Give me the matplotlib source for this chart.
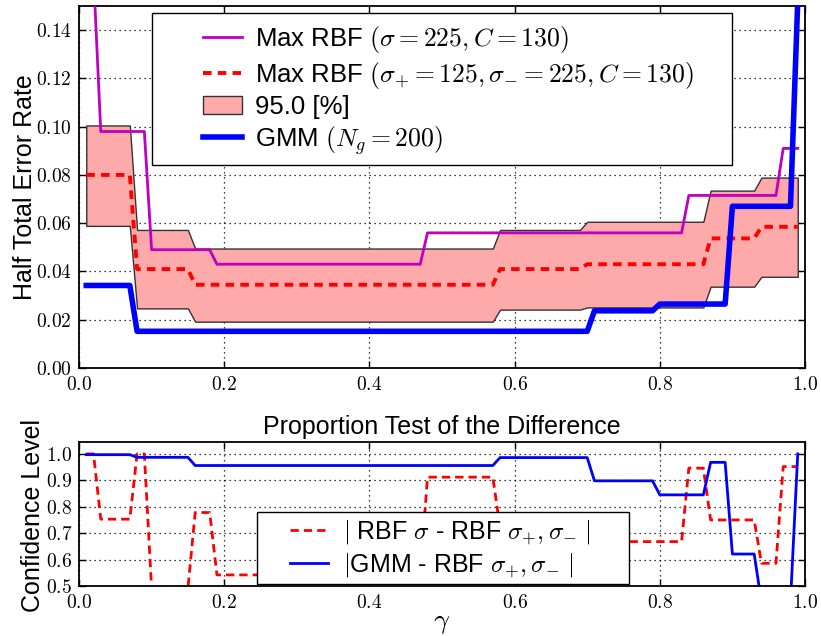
import numpy as np
import matplotlib
matplotlib.use("Agg")
import matplotlib.pyplot as plt
from matplotlib.patches import Rectangle

plt.rcParams['font.family'] = ['Liberation Sans', 'DejaVu Sans']
plt.rcParams['mathtext.fontset'] = 'cm'
plt.rcParams['lines.scale_dashes'] = True

# ---------------- data ----------------
gamma = np.linspace(0.01, 0.99, 99)

rbf_sigma = [
    0.170, 0.163, 0.098, 0.098, 0.098, 0.098, 0.098, 0.098, 0.098, 0.049,
    0.049, 0.049, 0.049, 0.049, 0.049, 0.049, 0.049, 0.049, 0.043, 0.043,
    0.043, 0.043, 0.043, 0.043, 0.043, 0.043, 0.043, 0.043, 0.043, 0.043,
    0.043, 0.043, 0.043, 0.043, 0.043, 0.043, 0.043, 0.043, 0.043, 0.043,
    0.043, 0.043, 0.043, 0.043, 0.043, 0.043, 0.043, 0.056, 0.056, 0.056,
    0.056, 0.056, 0.056, 0.056, 0.056, 0.056, 0.056, 0.056, 0.056, 0.056,
    0.056, 0.056, 0.056, 0.056, 0.056, 0.056, 0.056, 0.056, 0.056, 0.056,
    0.056, 0.056, 0.056, 0.056, 0.056, 0.056, 0.056, 0.056, 0.056, 0.056,
    0.056, 0.056, 0.056, 0.0715, 0.0715, 0.0715, 0.0715, 0.0715, 0.0715, 0.0715,
    0.0715, 0.0715, 0.0715, 0.0715, 0.0715, 0.0715, 0.091, 0.091, 0.091,
]

rbf_pm = [
    0.080, 0.080, 0.080, 0.080, 0.080, 0.080, 0.080, 0.041, 0.041, 0.041,
    0.041, 0.041, 0.041, 0.041, 0.041, 0.0345, 0.0345, 0.0345, 0.0345, 0.0345,
    0.0345, 0.0345, 0.0345, 0.0345, 0.0345, 0.0345, 0.0345, 0.0345, 0.0345, 0.0345,
    0.0345, 0.0345, 0.0345, 0.0345, 0.0345, 0.0345, 0.0345, 0.0345, 0.0345, 0.0345,
    0.0345, 0.0345, 0.0345, 0.0345, 0.0345, 0.0345, 0.0345, 0.0345, 0.0345, 0.0345,
    0.0345, 0.0345, 0.0345, 0.0345, 0.0345, 0.0345, 0.0345, 0.041, 0.041, 0.041,
    0.041, 0.041, 0.041, 0.041, 0.041, 0.041, 0.041, 0.041, 0.041, 0.043,
    0.043, 0.043, 0.043, 0.043, 0.043, 0.043, 0.043, 0.043, 0.043, 0.043,
    0.043, 0.043, 0.043, 0.043, 0.043, 0.043, 0.0537, 0.0537, 0.0537, 0.0537,
    0.0537, 0.0537, 0.0537, 0.0585, 0.0585, 0.0585, 0.0585, 0.0585, 0.0585,
]

band_hi = [
    0.1005, 0.1005, 0.1005, 0.1005, 0.1005, 0.1005, 0.1005, 0.0572, 0.0572, 0.0572,
    0.0572, 0.0572, 0.0572, 0.0572, 0.0572, 0.0495, 0.0495, 0.0495, 0.0495, 0.0495,
    0.0495, 0.0495, 0.0495, 0.0495, 0.0495, 0.0495, 0.0495, 0.0495, 0.0495, 0.0495,
    0.0495, 0.0495, 0.0495, 0.0495, 0.0495, 0.0495, 0.0495, 0.0495, 0.0495, 0.0495,
    0.0495, 0.0495, 0.0495, 0.0495, 0.0495, 0.0495, 0.0495, 0.0495, 0.0495, 0.0495,
    0.0495, 0.0495, 0.0495, 0.0495, 0.0495, 0.0495, 0.0495, 0.0572, 0.0572, 0.0572,
    0.0572, 0.0572, 0.0572, 0.0572, 0.0572, 0.0572, 0.0572, 0.0572, 0.0572, 0.0606,
    0.0606, 0.0606, 0.0606, 0.0606, 0.0606, 0.0606, 0.0606, 0.0606, 0.0606, 0.0606,
    0.0606, 0.0606, 0.0606, 0.0606, 0.0606, 0.0606, 0.0735, 0.0735, 0.0735, 0.0735,
    0.0735, 0.0735, 0.0735, 0.0789, 0.0789, 0.0789, 0.0789, 0.0789, 0.0789,
]

band_lo = [
    0.0589, 0.0589, 0.0589, 0.0589, 0.0589, 0.0589, 0.0589, 0.0247, 0.0247, 0.0247,
    0.0247, 0.0247, 0.0247, 0.0247, 0.0247, 0.0192, 0.0192, 0.0192, 0.0192, 0.0192,
    0.0192, 0.0192, 0.0192, 0.0192, 0.0192, 0.0192, 0.0192, 0.0192, 0.0192, 0.0192,
    0.0192, 0.0192, 0.0192, 0.0192, 0.0192, 0.0192, 0.0192, 0.0192, 0.0192, 0.0192,
    0.0192, 0.0192, 0.0192, 0.0192, 0.0192, 0.0192, 0.0192, 0.0192, 0.0192, 0.0192,
    0.0192, 0.0192, 0.0192, 0.0192, 0.0192, 0.0192, 0.0192, 0.0242, 0.0242, 0.0242,
    0.0242, 0.0242, 0.0242, 0.0242, 0.0242, 0.0242, 0.0242, 0.0242, 0.0242, 0.0251,
    0.0251, 0.0251, 0.0251, 0.0251, 0.0251, 0.0251, 0.0251, 0.0251, 0.0251, 0.0251,
    0.0251, 0.0251, 0.0251, 0.0251, 0.0251, 0.0251, 0.0337, 0.0337, 0.0337, 0.0337,
    0.0337, 0.0337, 0.0337, 0.0378, 0.0378, 0.0378, 0.0378, 0.0378, 0.0378,
]

gmm = [
    0.0342, 0.0342, 0.0342, 0.0342, 0.0342, 0.0342, 0.0342, 0.0152, 0.0152, 0.0152,
    0.0152, 0.0152, 0.0152, 0.0152, 0.0152, 0.0152, 0.0152, 0.0152, 0.0152, 0.0152,
    0.0152, 0.0152, 0.0152, 0.0152, 0.0152, 0.0152, 0.0152, 0.0152, 0.0152, 0.0152,
    0.0152, 0.0152, 0.0152, 0.0152, 0.0152, 0.0152, 0.0152, 0.0152, 0.0152, 0.0152,
    0.0152, 0.0152, 0.0152, 0.0152, 0.0152, 0.0152, 0.0152, 0.0152, 0.0152, 0.0152,
    0.0152, 0.0152, 0.0152, 0.0152, 0.0152, 0.0152, 0.0152, 0.0152, 0.0152, 0.0152,
    0.0152, 0.0152, 0.0152, 0.0152, 0.0152, 0.0152, 0.0152, 0.0152, 0.0152, 0.0152,
    0.0237, 0.0237, 0.0237, 0.0237, 0.0237, 0.0237, 0.0237, 0.0237, 0.0237, 0.0265,
    0.0265, 0.0265, 0.0265, 0.0265, 0.0265, 0.0265, 0.0265, 0.0265, 0.0265, 0.067,
    0.067, 0.067, 0.067, 0.067, 0.067, 0.067, 0.067, 0.067, 0.152,
]

conf_rbf = [
    1.0, 1.0, 0.753, 0.753, 0.753, 0.753, 0.753, 1.0, 1.0, 0.49,
    0.45, 0.45, 0.45, 0.45, 0.49, 0.778, 0.778, 0.778, 0.542, 0.542,
    0.542, 0.542, 0.542, 0.542, 0.542, 0.542, 0.542, 0.542, 0.542, 0.542,
    0.542, 0.542, 0.542, 0.542, 0.542, 0.542, 0.542, 0.542, 0.542, 0.542,
    0.542, 0.542, 0.542, 0.542, 0.542, 0.542, 0.542, 0.912, 0.912, 0.912,
    0.912, 0.912, 0.912, 0.912, 0.912, 0.912, 0.912, 0.72, 0.72, 0.72,
    0.72, 0.72, 0.72, 0.72, 0.72, 0.72, 0.72, 0.72, 0.72, 0.668,
    0.668, 0.668, 0.668, 0.668, 0.668, 0.668, 0.668, 0.668, 0.668, 0.668,
    0.668, 0.668, 0.668, 0.946, 0.946, 0.946, 0.75, 0.75, 0.75, 0.75,
    0.75, 0.75, 0.75, 0.586, 0.586, 0.586, 0.952, 0.952, 0.952,
]

conf_gmm = [
    0.997, 0.997, 0.997, 0.997, 0.997, 0.997, 0.997, 0.987, 0.987, 0.987,
    0.987, 0.987, 0.987, 0.987, 0.987, 0.956, 0.956, 0.956, 0.956, 0.956,
    0.956, 0.956, 0.956, 0.956, 0.956, 0.956, 0.956, 0.956, 0.956, 0.956,
    0.956, 0.956, 0.956, 0.956, 0.956, 0.956, 0.956, 0.956, 0.956, 0.956,
    0.956, 0.956, 0.956, 0.956, 0.956, 0.956, 0.956, 0.956, 0.956, 0.956,
    0.956, 0.956, 0.956, 0.956, 0.956, 0.956, 0.956, 0.986, 0.986, 0.986,
    0.986, 0.986, 0.986, 0.986, 0.986, 0.986, 0.986, 0.986, 0.986, 0.986,
    0.898, 0.898, 0.898, 0.898, 0.898, 0.898, 0.898, 0.898, 0.898, 0.845,
    0.845, 0.845, 0.845, 0.845, 0.845, 0.845, 0.968, 0.968, 0.968, 0.621,
    0.621, 0.621, 0.621, 0.44, 0.44, 0.44, 0.44, 0.44, 1.0,
]

x_ticks = [0.0, 0.2, 0.4, 0.6, 0.8, 1.0]
x_ticklabels = ['0.0', '0.2', '0.4', '0.6', '0.8', '1.0']
top_yticks = [0.00, 0.02, 0.04, 0.06, 0.08, 0.10, 0.12, 0.14]
top_yticklabels = ['0.00', '0.02', '0.04', '0.06', '0.08', '0.10', '0.12', '0.14']
bot_yticks = [0.5, 0.6, 0.7, 0.8, 0.9, 1.0]
bot_yticklabels = ['0.5', '0.6', '0.7', '0.8', '0.9', '1.0']

# ---------------- figure ----------------
W, H = 821, 636
fig = plt.figure(figsize=(W / 100, H / 100), dpi=100)
fig.patch.set_facecolor('white')

def rect(l, t, r, b):
    return [l / W, 1 - b / H, (r - l) / W, (b - t) / H]

ax1 = fig.add_axes(rect(79, 6, 805, 368))
ax2 = fig.add_axes(rect(79, 442, 805, 586))

def style(ax):
    ax.grid(True, color='black', linestyle=(0, (1, 3)), linewidth=0.9)
    ax.tick_params(direction='in', top=True, right=True, length=5, width=1,
                   labelsize=14)
    ax.tick_params(axis='y', pad=5)
    ax.tick_params(axis='x', pad=6)
    for s in ax.spines.values():
        s.set_linewidth(1.3)
    ax.set_axisbelow(True)

def box(ax, l, t, r, b, y0, y1):
    # legend frame in pixel-derived axes fractions
    x0f, x1f = (l - 79) / 726, (r - 79) / 726
    ax.add_patch(Rectangle((x0f, (y0 - b) / (y0 - y1)), x1f - x0f,
                           (b - t) / (y0 - y1), transform=ax.transAxes,
                           facecolor='white', edgecolor='black', lw=1.0,
                           zorder=9, clip_on=False))

# top panel
ax1.fill_between(gamma, band_lo, band_hi, facecolor='#ffaaaa',
                 edgecolor='#333333', linewidth=1.0, label='95.0 [%]', zorder=2)
ax1.plot(gamma, rbf_sigma, color='#bf00bf', lw=2.0,
         label=r'Max RBF $(\sigma = 225, C = 130)$', zorder=3)
ax1.plot(gamma, rbf_pm, color='red', lw=2.8, dashes=(2.2, 1.6),
         label=r'Max RBF $(\sigma_{+} = 125, \sigma_{-} = 225, C = 130)$', zorder=4)
ax1.plot(gamma, gmm, color='blue', lw=4.0,
         label=r'GMM $(N_g = 200)$', zorder=5)
ax1.set_xlim(0, 1)
ax1.set_ylim(0, 0.15)
ax1.set_xticks(x_ticks, ['$' + t + '$' for t in x_ticklabels])
ax1.set_yticks(top_yticks, ['$' + t + '$' for t in top_yticklabels])
style(ax1)
ax1.set_ylabel('Half Total Error Rate', fontsize=18)
ax1.yaxis.set_label_coords(-0.058, 0.5)

box(ax1, 152, 13, 732, 165, 368, 6)
h, l = ax1.get_legend_handles_labels()
order = [1, 2, 0, 3]
leg1 = ax1.legend([h[i] for i in order], [l[i] for i in order],
                  loc='upper left', bbox_to_anchor=((203 - 79) / 726, 0.950),
                  borderaxespad=0, borderpad=0, fontsize=18.5, frameon=False,
                  handlelength=1.52, labelspacing=0.18, handletextpad=0.5)
leg1.set_zorder(10)

# bottom panel
ax2.plot(gamma, conf_rbf, color='red', lw=2.0, dashes=(3, 1.8),
         label=r'$|$ RBF $\sigma$ - RBF $\sigma_{+}, \sigma_{-}$ $|$')
ax2.plot(gamma, conf_gmm, color='blue', lw=2.0,
         label=r'$|$GMM - RBF $\sigma_{+}, \sigma_{-}$ $|$')
ax2.set_xlim(0, 1)
ax2.set_ylim(0.5, 1.045)
ax2.set_xticks(x_ticks, ['$' + t + '$' for t in x_ticklabels])
ax2.set_yticks(bot_yticks, ['$' + t + '$' for t in bot_yticklabels])
style(ax2)
ax2.set_ylabel('Confidence Level', fontsize=18)
ax2.yaxis.set_label_coords(-0.047, 0.49)
ax2.set_xlabel(r'$\gamma$', fontsize=20, labelpad=-2)
ax2.set_title('Proportion Test of the Difference', fontsize=18, pad=6)

box(ax2, 257, 512, 629, 584, 586, 442)
leg2 = ax2.legend(loc='upper left', bbox_to_anchor=((290 - 79) / 726, 0.470),
                  borderaxespad=0, borderpad=0, fontsize=18, frameon=False,
                  handlelength=1.52, labelspacing=0.2, handletextpad=0.6)
leg2.set_zorder(10)

fig.savefig('out.png', dpi=100, facecolor='white')
